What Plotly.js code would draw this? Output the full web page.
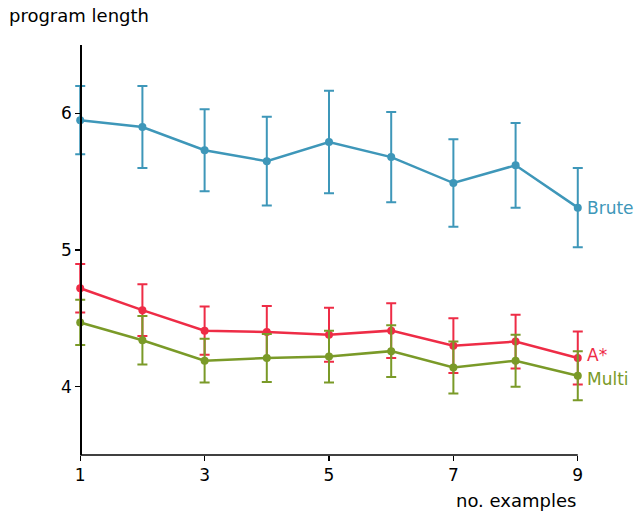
<!DOCTYPE html>
<html><head><meta charset="utf-8">
<script src="https://cdn.plot.ly/plotly-3.0.1.min.js"></script>
<style>body{margin:0;padding:0;background:#fff}#chart{width:639px;height:512px}</style>
</head><body><div id="chart"></div>
<script>
const examples = [1, 2, 3, 4, 5, 6, 7, 8, 9];
const bruteMean = [5.95, 5.90, 5.73, 5.65, 5.79, 5.68, 5.49, 5.62, 5.31];
const bruteErr  = [0.25, 0.30, 0.30, 0.325, 0.375, 0.33, 0.32, 0.31, 0.29];
const astarMean = [4.72, 4.56, 4.41, 4.40, 4.38, 4.41, 4.30, 4.33, 4.21];
const astarErr  = [0.177, 0.19, 0.177, 0.19, 0.197, 0.20, 0.20, 0.197, 0.194];
const multiMean = [4.47, 4.34, 4.19, 4.21, 4.22, 4.26, 4.14, 4.19, 4.08];
const multiErr  = [0.166, 0.177, 0.16, 0.176, 0.19, 0.19, 0.19, 0.19, 0.18];
const seriesNames = ['Brute', 'A*', 'Multi'];
const colors = ['#3e97b9', '#ee2c46', '#7a9a28'];
const xTicks = [1, 3, 5, 7, 9];
const yTicks = [4, 5, 6];

const means = [bruteMean, astarMean, multiMean];
const errs = [bruteErr, astarErr, multiErr];
const xMin = examples[0], xMax = examples[examples.length - 1];
const pad = 0.1;
const labelShift = [0, 3, -3];

const traces = means.map((m, i) => ({
  x: examples, y: m, type: 'scatter', mode: 'lines+markers', name: seriesNames[i],
  line: {color: colors[i], width: 2.5},
  marker: {color: colors[i], size: 8},
  error_y: {type: 'data', array: errs[i], visible: true, color: colors[i], thickness: 2, width: 5},
  cliponaxis: false, showlegend: false
}));

const annotations = means.map((m, i) => ({
  x: xMax, y: m[m.length - 1], xref: 'x', yref: 'y',
  text: seriesNames[i], showarrow: false, xanchor: 'left', yanchor: 'middle', xshift: 8,
  yshift: labelShift[i], borderpad: 0,
  font: {family: 'DejaVu Sans', size: 17, color: colors[i]}
}));
annotations.push({
  x: 0, y: 1, xref: 'paper', yref: 'paper', xanchor: 'left', yanchor: 'middle',
  text: 'program length', showarrow: false, xshift: -67, yshift: 30,
  font: {family: 'DejaVu Sans', size: 18, color: '#000'}
});
annotations.push({
  x: xMax, y: 0, xref: 'x', yref: 'paper', xanchor: 'right', yanchor: 'middle',
  text: 'no. examples', showarrow: false, yshift: -45,
  font: {family: 'DejaVu Sans', size: 18, color: '#000'}
});

const layout = {
  width: 639, height: 512,
  margin: {l: 74, r: 55, t: 45, b: 57},
  paper_bgcolor: '#fff', plot_bgcolor: '#fff',
  font: {family: 'DejaVu Sans', size: 17, color: '#000'},
  xaxis: {range: [xMin - pad, xMax + pad], tickvals: xTicks, ticks: 'outside', ticklen: 5, tickwidth: 1.3,
    tickcolor: '#000', showline: false, showgrid: false, zeroline: false,
    tickfont: {family: 'DejaVu Sans', size: 17}},
  yaxis: {range: [3.5, 6.5], tickvals: yTicks, ticks: 'outside', ticklen: 5, tickwidth: 1.3,
    tickcolor: '#000', anchor: 'free', position: pad / (xMax - xMin + 2 * pad),
    showline: true, linecolor: '#000', linewidth: 1.3, showgrid: false, zeroline: false,
    tickfont: {family: 'DejaVu Sans', size: 17}},
  shapes: [{type: 'line', xref: 'x', yref: 'paper', x0: xMin, x1: xMax, y0: 0, y1: 0,
    line: {color: '#000', width: 1.3}, layer: 'above'}],
  annotations: annotations
};
Plotly.newPlot('chart', traces, layout, {displayModeBar: false, staticPlot: true});
</script></body></html>
